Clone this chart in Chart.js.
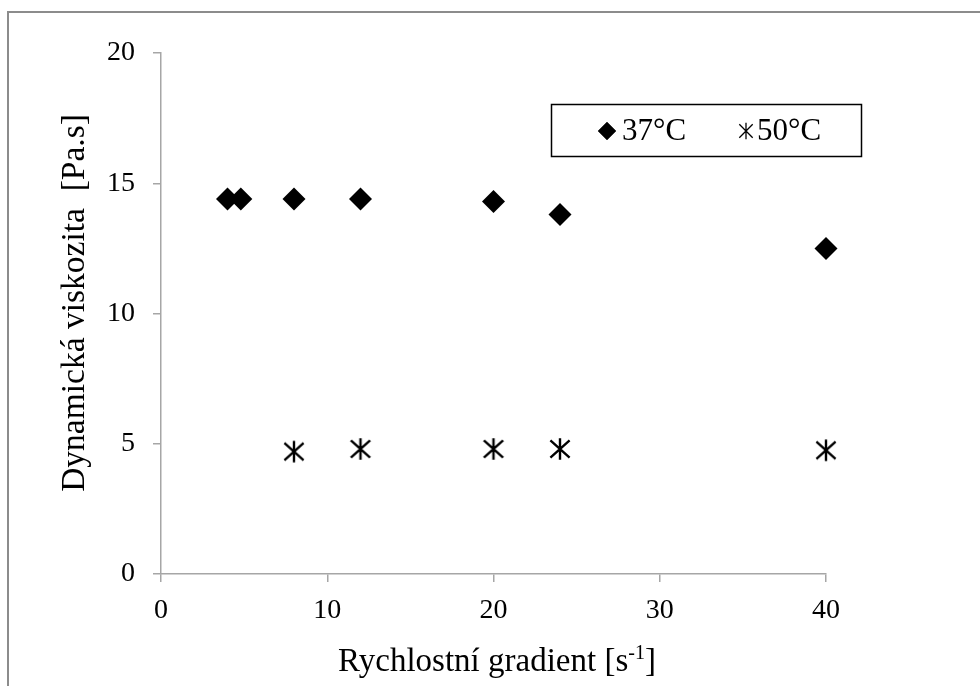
<!DOCTYPE html>
<html>
<head>
<meta charset="utf-8">
<script src="https://cdn.jsdelivr.net/npm/chart.js@4"></script>
<style>
  html, body { margin: 0; padding: 0; background: #fff; overflow: hidden; }
  .frame {
    position: absolute; left: 7px; top: 11px; width: 1000px; height: 700px;
    border: 2px solid #8c8c8c; box-sizing: border-box;
  }
  .wrap { position: absolute; left: 0; top: 0; width: 980px; height: 686px; }
</style>
</head>
<body>
<div class="frame"></div>
<div class="wrap"><canvas id="grafico" width="980" height="686"></canvas></div>
<script>
const seriesNames = ["37°C", "50°C"];
const gradient37 = [4, 4.8, 8, 12, 20, 24, 40];
const viskozita37 = [14.4, 14.4, 14.4, 14.4, 14.3, 13.8, 12.5];
const gradient50 = [8, 12, 20, 24, 40];
const viskozita50 = [4.7, 4.8, 4.8, 4.8, 4.75];
const xTicks = [0, 10, 20, 30, 40];
const yTicks = [0, 5, 10, 15, 20];

const fonte = "'Liberation Serif', 'Times New Roman', serif";

// bod ve tvaru hvezdicky (svisla cara + X)
function hvezdicka(w, h, lw) {
  const c = document.createElement("canvas");
  c.width = w; c.height = h;
  const ctx = c.getContext("2d");
  const m = w / 2, p = lw;
  ctx.strokeStyle = "#000";
  ctx.lineWidth = lw;
  ctx.beginPath();
  ctx.moveTo(m, p * 0.5); ctx.lineTo(m, h - p * 0.5);
  ctx.moveTo(p, p + 1); ctx.lineTo(w - p, h - p - 1);
  ctx.moveTo(w - p, p + 1); ctx.lineTo(p, h - p - 1);
  ctx.stroke();
  return c;
}
const hvezda = hvezdicka(24, 24, 2.4);
const hvezdaMala = hvezdicka(16, 18, 1.3);

const pts = (xs, ys) => xs.map((x, i) => ({ x: x, y: ys[i] }));

// legenda v ramecku, popisky os (osa x s exponentem)
const kresleni = {
  id: "kresleni",
  afterDraw(chart) {
    const ctx = chart.ctx;
    const area = chart.chartArea;
    ctx.save();
    // legenda
    ctx.strokeStyle = "#000";
    ctx.lineWidth = 1.5;
    ctx.strokeRect(551.5, 104.5, 310, 52);
    ctx.fillStyle = "#000";
    Chart.helpers.drawPoint(ctx, { pointStyle: "rectRot", radius: 9, borderWidth: 0 }, 607, 131);
    ctx.fill();
    ctx.drawImage(hvezdaMala, 746 - 8, 131 - 9);
    ctx.font = "31px " + fonte;
    ctx.textBaseline = "middle";
    ctx.textAlign = "left";
    ctx.fillText(seriesNames[0], 622, 132);
    ctx.fillText(seriesNames[1], 757, 132);

    // titulek osy y
    ctx.save();
    ctx.translate(75, 303);
    ctx.rotate(-Math.PI / 2);
    ctx.textAlign = "center";
    ctx.font = "33.5px " + fonte;
    ctx.fillText("Dynamická viskozita  [Pa.s]", 0, 0);
    ctx.restore();

    // titulek osy x
    const hlavni = "Rychlostní gradient [s";
    const exp = "-1";
    const konec = "]";
    ctx.textAlign = "left";
    ctx.font = "33px " + fonte;
    const w1 = ctx.measureText(hlavni).width;
    const w3 = ctx.measureText(konec).width;
    ctx.font = "20px " + fonte;
    const w2 = ctx.measureText(exp).width;
    let x = 497 - (w1 + w2 + w3) / 2;
    const y = 671;
    ctx.textBaseline = "alphabetic";
    ctx.font = "33px " + fonte;
    ctx.fillText(hlavni, x, y);
    x += w1;
    ctx.font = "20px " + fonte;
    ctx.fillText(exp, x, y - 12);
    x += w2;
    ctx.font = "33px " + fonte;
    ctx.fillText(konec, x, y);
    ctx.restore();
  }
};

new Chart(document.getElementById("grafico"), {
  type: "scatter",
  data: {
    datasets: [
      {
        label: seriesNames[0],
        data: pts(gradient37, viskozita37),
        pointStyle: "rectRot",
        pointRadius: 11.5,
        pointHoverRadius: 11.5,
        backgroundColor: "#000",
        borderColor: "#000",
        borderWidth: 0,
        clip: false,
      },
      {
        label: seriesNames[1],
        data: pts(gradient50, viskozita50),
        pointStyle: hvezda,
        pointRadius: 12,
        backgroundColor: "#000",
        borderColor: "#000",
        clip: false,
      },
    ],
  },
  plugins: [kresleni],
  options: {
    responsive: false,
    animation: false,
    events: [],
    layout: { padding: { top: 53, right: 154, left: 0, bottom: 0 } },
    plugins: { legend: { display: false }, tooltip: { enabled: false } },
    scales: {
      x: {
        type: "linear",
        min: 0,
        max: 40,
        afterBuildTicks: (s) => { s.ticks = xTicks.map((v) => ({ value: v })); },
        afterFit: (s) => { s.height = 112; },
        border: { color: "#a6a6a6", width: 1.5 },
        grid: { drawOnChartArea: false, tickLength: 8, color: "#a6a6a6", lineWidth: 1.5 },
        ticks: { color: "#000", padding: 12, font: { family: fonte, size: 28 } },
      },
      y: {
        type: "linear",
        min: 0,
        max: 20,
        afterBuildTicks: (s) => { s.ticks = yTicks.map((v) => ({ value: v })); },
        afterFit: (s) => { s.width = 161; },
        border: { color: "#a6a6a6", width: 1.5 },
        grid: { drawOnChartArea: false, tickLength: 8, color: "#a6a6a6", lineWidth: 1.5 },
        ticks: { color: "#000", padding: 18, font: { family: fonte, size: 28 } },
      },
    },
  },
});
</script>
</body>
</html>
